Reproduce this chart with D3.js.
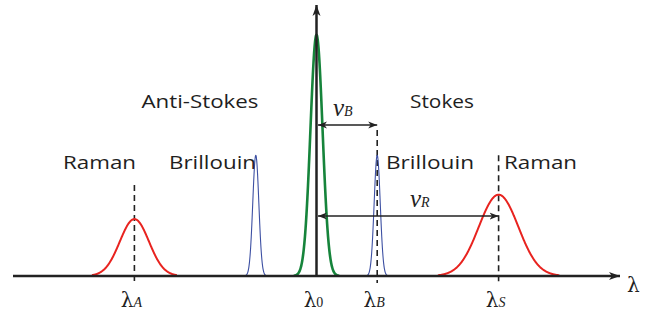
<!DOCTYPE html>
<meta charset="utf-8">
<style type="text/css">
body { margin: 0; background: #fff; }
/* axes and shift arrows */
.axis-line { fill: none; stroke: #222; stroke-width: 2.5px; }
.shift { fill: none; stroke: #222; stroke-width: 1.5px; }
.guide { stroke: #222; stroke-width: 1.6px; stroke-dasharray: 6,4; }
.peak { fill: none; }
.label { font-family: "Open Sans", sans-serif; font-size: 19px; fill: #1e1e1e; }
.greek { font-family: "Liberation Serif", serif; fill: #222; }
.lam { font-family: "DejaVu Serif", serif; font-size: 20px; }
</style>
<body>
</body>
<script src="https://cdn.jsdelivr.net/npm/d3@7"></script>
<script>

// wavelength offset from the pump line (arbitrary units), intensity 0-100
var peakKinds   = ["raman", "brillouin", "pump", "brillouin", "raman"];
var peakCenters = [-60, -20, 0, 20, 60];
var peakHeights = [21, 44.6, 89, 44.6, 30];
var peakWidths  = [4.8, 1.0, 2.0, 1.0, 6.5];   // gaussian sigma
var peakSpans   = [14, 3.6, 7.5, 3.6, 20];     // curve drawn this far either side

var tickAt   = [-60, 0, 20, 60];
var tickSubs = ["A", "0", "B", "S"];

var guideAt  = [-60, 20, 60];
var guideTop = [33.6, 53.9, 44.6];

var shiftSubs  = ["B", "R"];
var shiftTo    = [20, 60];
var shiftLevel = [55.7, 22.1];

var sideLabels = ["Anti-Stokes", "Stokes"];
var peakLabels = ["Raman", "Brillouin", "Brillouin", "Raman"];

var W = 649, H = 313;
var colors = {raman: "#e8231f", brillouin: "#3d50a3", pump: "#16843b"};
var strokes = {raman: 2, brillouin: 1.1, pump: 2.6};

var x = d3.scaleLinear().domain([-100, 100]).range([13, 620]);
var y = d3.scaleLinear().domain([0, 100]).range([276, 5]);

var svg = d3.select("body").append("svg")
    .attr("width", W).attr("height", H);

var defs = svg.append("defs");
defs.append("marker").attr("id", "bigHead")
    .attr("viewBox", "0 -5 12 10").attr("refX", 11).attr("refY", 0)
    .attr("markerWidth", 12).attr("markerHeight", 10)
    .attr("markerUnits", "userSpaceOnUse").attr("orient", "auto")
  .append("path").attr("d", "M0,-4L11,0L0,4L3,0Z").attr("fill", "#222");
defs.append("marker").attr("id", "smallHead")
    .attr("viewBox", "0 -5 10 10").attr("refX", 9).attr("refY", 0)
    .attr("markerWidth", 10).attr("markerHeight", 10)
    .attr("markerUnits", "userSpaceOnUse").attr("orient", "auto-start-reverse")
  .append("path").attr("d", "M0,-3.5L9,0L0,3.5L2.5,0Z").attr("fill", "#222");

// dashed guides through the peaks, running just below the baseline
svg.selectAll(".guide").data(guideAt).enter().append("line")
    .attr("class", "guide")
    .attr("x1", function(d) { return x(d); })
    .attr("x2", function(d) { return x(d); })
    .attr("y1", function(d, i) { return y(guideTop[i]); })
    .attr("y2", y(-2.6));

// peak profiles
var peakLine = d3.line()
    .x(function(p) { return x(p[0]); })
    .y(function(p) { return y(p[1]); })
    .curve(d3.curveBasis);

peakCenters.forEach(function(c, i) {
    var pts = d3.range(c - peakSpans[i], c + peakSpans[i] + 0.001, 0.1).map(function(v) {
        var s = peakWidths[i];
        return [v, peakHeights[i] * Math.exp(-(v - c) * (v - c) / (2 * s * s))];
    });
    svg.append("path")
        .datum(pts)
        .attr("class", "peak")
        .attr("d", peakLine)
        .style("stroke", colors[peakKinds[i]])
        .style("stroke-width", strokes[peakKinds[i]]);
});

// axes
svg.append("line").attr("class", "axis-line")
    .attr("x1", x(-100)).attr("y1", y(0))
    .attr("x2", x(100)).attr("y2", y(0))
    .attr("marker-end", "url(#bigHead)");
svg.append("line").attr("class", "axis-line")
    .attr("x1", x(0)).attr("y1", y(0))
    .attr("x2", x(0)).attr("y2", y(100))
    .attr("marker-end", "url(#bigHead)");

// shift arrows from the pump line
svg.selectAll(".shift").data(shiftTo).enter().append("line")
    .attr("class", "shift")
    .attr("x1", x(0) + 1.5)
    .attr("x2", function(d) { return x(d); })
    .attr("y1", function(d, i) { return y(shiftLevel[i]); })
    .attr("y2", function(d, i) { return y(shiftLevel[i]); })
    .attr("marker-start", "url(#smallHead)")
    .attr("marker-end", "url(#smallHead)");

var shiftText = svg.selectAll(".shiftText").data(shiftSubs).enter().append("text")
    .attr("class", "greek")
    .attr("x", function(d, i) { return i == 0 ? 333 : 410; })
    .attr("y", function(d, i) { return i == 0 ? 116 : 207; });
shiftText.append("tspan").style("font-style", "italic").style("font-size", "25px").text("ν");
shiftText.append("tspan").style("font-style", "italic").style("font-size", "14px").text(function(d) { return d; });

// tick labels under the baseline
var tickText = svg.selectAll(".tickText").data(tickAt).enter().append("text")
    .attr("class", "greek")
    .attr("text-anchor", "middle")
    .attr("x", function(d) { return x(d) - 3; })
    .attr("y", 307);
tickText.append("tspan").attr("class", "lam").text("λ");
tickText.append("tspan")
    .style("font-style", function(d, i) { return tickSubs[i] == "0" ? "normal" : "italic"; })
    .style("font-size", "14px")
    .text(function(d, i) { return tickSubs[i]; });

svg.append("text").attr("class", "greek lam")
    .attr("x", 627).attr("y", 292)
    .text("λ");

// Anti-Stokes / Stokes headings
var sideX = [200, 442], sideLen = [117, 64];
svg.selectAll(".side").data(sideLabels).enter().append("text")
    .attr("class", "label")
    .attr("text-anchor", "middle")
    .attr("x", function(d, i) { return sideX[i]; })
    .attr("y", 108)
    .attr("textLength", function(d, i) { return sideLen[i]; })
    .attr("lengthAdjust", "spacingAndGlyphs")
    .text(function(d) { return d; });

// peak names
var nameX = [63, 169, 386, 504], nameLen = [73, 87, 88, 73];
svg.selectAll(".name").data(peakLabels).enter().append("text")
    .attr("class", "label")
    .attr("x", function(d, i) { return nameX[i]; })
    .attr("y", 169)
    .attr("textLength", function(d, i) { return nameLen[i]; })
    .attr("lengthAdjust", "spacingAndGlyphs")
    .text(function(d) { return d; });

</script>
